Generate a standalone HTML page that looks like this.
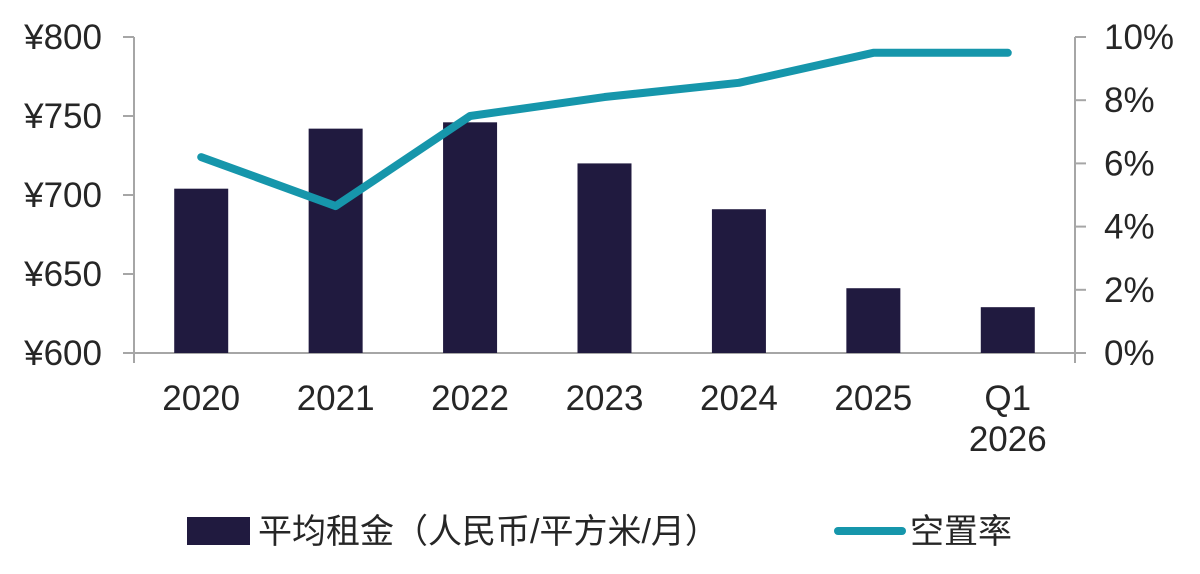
<!DOCTYPE html>
<html><head><meta charset="utf-8"><style>
html,body{margin:0;padding:0;background:#fff;width:1200px;height:574px;overflow:hidden}
text{font-family:"Liberation Sans","Noto Sans CJK SC",sans-serif;fill:#262626}
</style></head><body>
<svg id="chart" width="1200" height="574" viewBox="0 0 1200 574" xmlns="http://www.w3.org/2000/svg"></svg>
<script>
const categories=["2020","2021","2022","2023","2024","2025","Q1|2026"];
const rentValues=[704,742,746,720,691,641,629];
const vacancyValues=[6.2,4.65,7.5,8.1,8.55,9.5,9.5];
const leftTicks=[600,650,700,750,800];
const rightTicks=[0,2,4,6,8,10];
const NS="http://www.w3.org/2000/svg";
const svg=document.getElementById('chart');
const X0=134,X1=1075,Y0=353,Y1=37;
const band=(X1-X0)/categories.length;
const xc=i=>X0+band*(i+0.5);
const yL=v=>Y0-(v-600)/200*(Y0-Y1);
const yR=v=>Y0-v/10*(Y0-Y1);
function mk(t,a,p){const e=document.createElementNS(NS,t);for(const k in a)e.setAttribute(k,a[k]);(p||svg).appendChild(e);return e;}
const g=mk('g',{});


mk('line',{x1:X0,y1:Y1,x2:X0,y2:Y0+10,stroke:'#a6a6a6','stroke-width':2},g);
mk('line',{x1:X1,y1:Y1,x2:X1,y2:Y0+10,stroke:'#a6a6a6','stroke-width':2},g);
mk('line',{x1:X0-11,y1:Y0,x2:X1+11,y2:Y0,stroke:'#a6a6a6','stroke-width':2},g);
leftTicks.forEach(v=>{
  mk('line',{x1:X0-11,y1:yL(v),x2:X0,y2:yL(v),stroke:'#a6a6a6','stroke-width':2},g);
  const t=mk('text',{x:102,y:yL(v)+12,'text-anchor':'end','font-size':35});
  t.textContent='¥'+v;
  
  
});
rightTicks.forEach(v=>{
  mk('line',{x1:X1,y1:yR(v),x2:X1+11,y2:yR(v),stroke:'#a6a6a6','stroke-width':2},g);
  const t=mk('text',{x:1104,y:yR(v)+12,'font-size':35});
  t.textContent=v+'%';
  
  
});
categories.forEach((c,i)=>{
  const parts=c.split('|');
  parts.forEach((p,j)=>{
    const t=mk('text',{x:xc(i),y:410+j*41,'text-anchor':'middle','font-size':35});
    t.textContent=p;
    
    
  });
});
const bw=54;
rentValues.forEach((v,i)=>{
  const r=mk('rect',{x:xc(i)-bw/2,y:yL(v),width:bw,height:Y0-yL(v),fill:'#201a3f'});
  
  
});
const pts=vacancyValues.map((v,i)=>xc(i)+','+yR(v)).join(' ');
const pl=mk('polyline',{points:pts,fill:'none',stroke:'#1696ab','stroke-width':8,'stroke-linecap':'round','stroke-linejoin':'round'});


const lg=mk('g',{});


mk('rect',{x:187,y:517,width:63,height:28,fill:'#201a3f'},lg);
const t1=mk('text',{x:258,y:543,'font-size':34},lg);
t1.textContent='平均租金（人民币/平方米/月）';


mk('line',{x1:838,y1:531,x2:902,y2:531,stroke:'#1696ab','stroke-width':8,'stroke-linecap':'round'},lg);
const t2=mk('text',{x:910,y:543,'font-size':34},lg);
t2.textContent='空置率';


</script>
</body></html>
